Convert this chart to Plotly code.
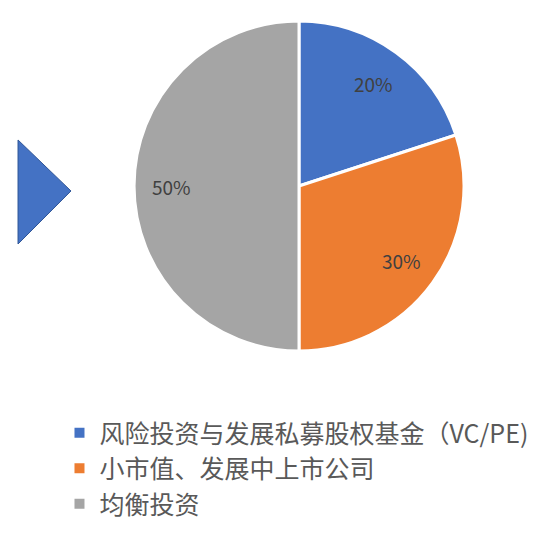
import math
import plotly.graph_objects as go

labels = ["风险投资与发展私募股权基金（VC/PE)", "小市值、发展中上市公司", "均衡投资"]
values = [20, 30, 50]
colors = ["#4472C4", "#ED7D31", "#A5A5A5"]
text_labels = ["20%", "30%", "50%"]

W, H = 542, 549
cx, cy, R = 291, 178, 165

dom_x = [(cx - R) / W, (cx + R) / W]
dom_y = [1 - (cy + R) / H, 1 - (cy - R) / H]

fig = go.Figure()
fig.add_trace(go.Pie(
    labels=labels,
    values=values,
    marker=dict(colors=colors, line=dict(color="white", width=3)),
    sort=False,
    direction="clockwise",
    rotation=0,
    textinfo="none",
    hoverinfo="label+percent",
    domain=dict(x=dom_x, y=dom_y),
))

# percentage labels placed along each slice's mid-angle
total = sum(values)
cum = 0
for v, t in zip(values, text_labels):
    mid = (cum + v / 2) / total * 2 * math.pi
    cum += v
    r = 0.77 * R
    px = cx + r * math.sin(mid)
    py = cy - r * math.cos(mid)
    fig.add_annotation(
        x=px / W, y=1 - py / H, xref="paper", yref="paper",
        xanchor="center", yanchor="middle",
        text=t, showarrow=False,
        font=dict(size=19, color="#404040", family="Noto Sans CJK SC"),
    )

# blue arrow on the left edge
fig.add_shape(
    type="path",
    path="M {:.4f},{:.4f} L {:.4f},{:.4f} L {:.4f},{:.4f} Z".format(
        10 / W, 1 - 132 / H, 63 / W, 1 - 183 / H, 10 / W, 1 - 236 / H),
    xref="paper", yref="paper",
    fillcolor="#4472C4", line=dict(color="#2F5597", width=1),
)

fig.update_layout(
    width=W, height=H,
    margin=dict(l=0, r=0, t=0, b=0),
    paper_bgcolor="white", plot_bgcolor="white",
    showlegend=True,
    legend=dict(
        x=0.095, y=1 - 402 / H, xanchor="left", yanchor="top",
        font=dict(size=25, color="#595959", family="Noto Sans CJK SC"),
        tracegroupgap=0, itemsizing="constant",
        bgcolor="rgba(0,0,0,0)",
    ),
)

fig.write_html("out.html")
